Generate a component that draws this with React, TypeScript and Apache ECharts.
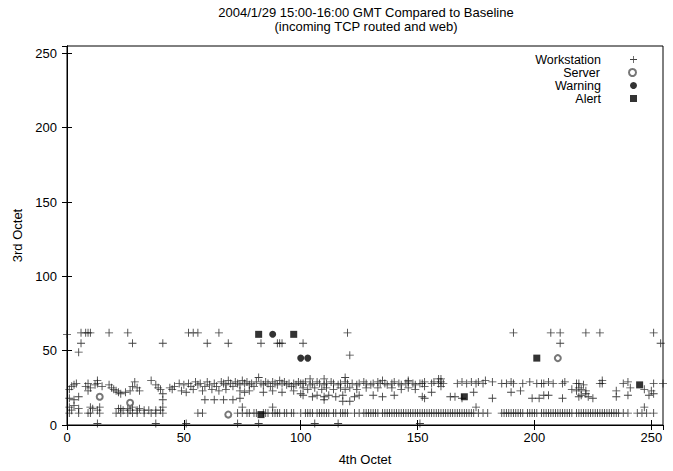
import React, { useEffect, useRef } from "react";
import * as echarts from "echarts";

const titleLines = ["2004/1/29 15:00-16:00 GMT Compared to Baseline", "(incoming TCP routed and web)"];
const xTickValues = [0, 50, 100, 150, 200, 250];
const yTickValues = [0, 50, 100, 150, 200, 250];

// Workstations on the bottom line (3rd octet ~1)
const wsBottomX = [13, 38, 51, 73, 82, 106, 116, 151];
// Workstations on the 3rd octet = 8 line
const wsRow8X = [
  1, 5, 9, 10, 14, 21, 23, 26, 28, 30, 33, 36, 38, 41, 56, 58,
  73, 75, 77, 78, 80, 81, 84, 85, 86, 88, 89, 90, 91, 93, 94, 96, 97,
  100, 102, 103, 104, 105, 107, 108, 109, 110, 111, 112, 114, 115, 117, 118, 119, 120,
  123, 125, 127, 128, 129, 130, 131, 132, 133, 135, 136, 137, 138, 139, 140, 141, 142,
  143, 144, 145, 146, 147, 148, 149, 150, 151, 152, 153, 154, 155, 156, 157, 158, 159,
  160, 161, 162, 163, 164, 165, 166, 167, 168, 169, 170, 171, 172, 173, 174, 176, 178,
  180, 186, 187, 188, 189, 190, 191, 192, 193, 194, 195, 197, 198, 199, 200, 201,
  203, 204, 205, 206, 207, 208, 209, 210, 211, 212, 213, 214, 215, 216, 218, 219, 220,
  221, 222, 223, 224, 225, 226, 227, 228, 229, 230, 231, 232, 233, 234, 235, 236, 238,
  240, 244, 246, 248, 251,
];
// Workstations on the 62 / 55 lines and other scattered upper points
const wsUpper: [number, number][] = [
  [0, 61], [6, 62], [8, 62], [9, 62], [10, 62], [18, 62], [26, 62], [52, 62], [54, 62], [56, 62],
  [65, 62], [120, 62], [191, 62], [207, 62], [211, 62], [222, 62], [228, 62], [251, 62],
  [6, 55], [28, 55], [41, 55], [60, 55], [69, 55], [83, 55], [90, 55], [91, 55], [92, 55],
  [101, 55], [211, 55], [254, 55], [5, 49], [121, 47],
];
// Workstations in the dense band
const wsBand: [number, number][] = [
  [1, 24], [2, 26], [3, 27], [4, 28], [1, 18], [3, 17], [5, 19], [1, 12], [2, 10], [3, 13], [5, 11],
  [8, 26], [9, 28], [10, 25], [9, 23], [13, 30], [12, 27], [15, 26], [13, 28], [10, 12], [11, 11],
  [13, 10], [14, 12], [18, 27], [19, 25], [21, 23], [20, 24], [22, 22], [23, 21], [25, 22], [27, 23],
  [28, 26], [29, 29], [30, 25], [31, 23], [22, 11], [23, 11], [24, 10], [26, 11], [27, 10], [28, 12],
  [30, 10], [31, 11], [33, 10], [35, 10], [36, 30], [38, 27], [39, 25], [40, 24], [41, 21], [38, 10],
  [40, 10], [41, 12], [41, 17], [44, 25], [45, 24], [46, 26], [48, 28], [49, 23],
  [50, 27], [52, 28], [53, 26], [55, 29], [56, 27], [57, 28], [59, 26], [60, 29], [61, 27], [63, 28],
  [64, 26], [66, 29], [67, 28], [68, 27], [69, 30], [70, 28], [71, 26], [72, 29], [73, 28], [74, 27],
  [75, 30], [76, 28], [77, 29], [78, 27], [79, 28], [80, 26], [81, 29], [82, 32], [83, 28], [84, 27],
  [85, 29], [86, 28], [87, 26], [88, 29], [89, 28], [90, 27], [91, 30], [92, 28], [93, 29], [94, 27],
  [95, 28], [96, 26], [97, 28], [98, 27], [99, 29], [100, 28],
  [51, 22], [54, 24], [58, 23], [62, 24], [65, 23], [68, 24], [74, 23], [76, 22], [78, 23], [84, 22],
  [88, 23], [92, 22], [97, 23], [100, 21], [59, 17], [63, 17], [67, 17], [71, 17], [74, 18], [75, 12], [88, 12],
  [101, 28], [102, 29], [104, 27], [105, 28], [107, 29], [108, 28], [110, 27], [111, 28], [113, 29],
  [114, 28], [116, 27], [117, 28], [119, 29], [120, 28], [122, 28], [124, 27], [125, 28], [127, 29],
  [128, 28], [130, 27], [131, 28], [133, 29], [134, 28], [136, 28], [137, 27], [139, 28], [140, 29],
  [142, 28], [143, 27], [145, 28], [146, 29], [148, 28], [149, 27], [151, 28],
  [104, 31], [110, 31], [119, 32], [135, 30], [146, 30],
  [101, 25], [103, 24], [106, 25], [109, 24], [111, 25], [114, 24], [117, 25], [119, 24], [121, 25],
  [124, 24], [128, 25], [133, 25], [139, 25], [143, 24], [146, 25], [149, 24],
  [101, 20], [105, 19], [107, 20], [110, 19], [112, 20], [115, 19], [118, 20], [123, 19], [125, 20],
  [131, 20], [135, 19], [140, 20], [152, 19], [110, 17], [118, 16], [121, 16],
  [152, 28], [153, 29], [156, 28], [157, 29], [159, 28], [160, 29], [161, 28], [167, 28], [169, 29],
  [171, 28], [173, 29], [175, 28], [176, 29], [178, 28], [182, 29], [186, 28], [188, 28], [190, 29],
  [191, 28], [195, 28], [198, 29], [201, 28], [203, 28], [159, 31], [160, 31], [179, 30],
  [153, 26], [160, 26], [156, 22], [174, 22], [190, 22], [194, 23],
  [153, 18], [164, 19], [166, 19], [169, 18], [182, 18], [199, 18], [202, 18], [175, 12],
  [204, 28], [206, 29], [208, 28], [212, 28], [213, 29], [218, 28], [219, 28], [221, 27], [228, 28],
  [229, 30], [229, 28], [238, 28], [240, 29], [251, 28], [255, 28],
  [216, 24], [218, 23], [219, 25], [220, 24], [222, 23], [235, 23], [241, 25], [247, 24], [250, 23],
  [204, 20], [206, 20], [212, 18], [219, 19], [220, 20], [222, 21], [223, 19], [225, 18], [235, 19],
  [240, 20], [249, 20], [251, 21], [247, 12],
];
const serverPts: [number, number][] = [[14, 19], [27, 15], [69, 7], [210, 45]];
const warningPts: [number, number][] = [[88, 61], [100, 45], [103, 45]];
const alertPts: [number, number][] = [[82, 61], [97, 61], [83, 7], [170, 19], [201, 45], [245, 27]];

const FONT = "Liberation Sans, Arial, Helvetica, sans-serif";
const PLUS = "path://M4.45,0H5.55V4.45H10V5.55H5.55V10H4.45V5.55H0V4.45H4.45Z";

export default function App() {
  const ref = useRef<HTMLDivElement>(null);
  useEffect(() => {
    document.body.style.margin = "0";
    if (!ref.current) return;
    const chart = echarts.init(ref.current, undefined, { renderer: "svg" });
    const workstations: [number, number][] = [
      ...wsBottomX.map((x) => [x, 1] as [number, number]),
      ...wsRow8X.map((x) => [x, 8] as [number, number]),
      ...wsUpper,
      ...wsBand,
    ];
    const axisCommon = {
      type: "value" as const,
      min: 0,
      max: 255,
      interval: 50,
      splitLine: { show: false },
      axisLine: { show: true, lineStyle: { color: "#000", width: 1 } },
      axisTick: { show: true, inside: true, length: 5, lineStyle: { color: "#000" } },
    };
    const fmt = (v: number) => (xTickValues.includes(v) ? String(v) : "");
    const fmtY = (v: number) => (yTickValues.includes(v) ? String(v) : "");
    const names = ["Workstation", "Server", "Warning", "Alert"];
    const legends = names.map((n, i) => ({
      data: [n],
      orient: "vertical" as const,
      right: 36,
      top: 53 + i * 13,
      align: "right" as const,
      padding: 0,
      itemWidth: 7,
      itemHeight: 7,
      textStyle: { fontFamily: FONT, fontSize: 12.5, lineHeight: 11, color: "#000", padding: [0, 24, 0, 0] },
    }));
    chart.setOption({
      animation: false,
      backgroundColor: "#fff",
      title: {
        text: titleLines.join("\n"),
        left: 366,
        textAlign: "center",
        top: 5,
        padding: 0,
        textStyle: { fontFamily: FONT, fontSize: 13, fontWeight: "normal", color: "#000", lineHeight: 14 },
      },
      legend: legends,
      grid: { left: 67, right: 10, top: 46, bottom: 42, show: true, borderColor: "#000", borderWidth: 1, backgroundColor: "transparent" },
      xAxis: [
        {
          ...axisCommon,
          position: "bottom",
          name: "4th Octet",
          nameLocation: "middle",
          nameGap: 28,
          nameTextStyle: { fontFamily: FONT, fontSize: 13, color: "#000" },
          axisLabel: { fontFamily: FONT, fontSize: 13, color: "#000", margin: 6, formatter: fmt, showMaxLabel: false },
        },
        { ...axisCommon, position: "top", axisLabel: { show: false } },
      ],
      yAxis: [
        {
          ...axisCommon,
          position: "left",
          name: "3rd Octet",
          nameLocation: "middle",
          nameGap: 42,
          nameRotate: 90,
          nameTextStyle: { fontFamily: FONT, fontSize: 13, color: "#000" },
          axisLabel: { fontFamily: FONT, fontSize: 13, color: "#000", margin: 10, formatter: fmtY, showMaxLabel: false },
        },
        { ...axisCommon, position: "right", axisLabel: { show: false } },
      ],
      series: [
        { name: "Workstation", type: "scatter", symbol: PLUS, symbolSize: 8, itemStyle: { color: "#111" }, data: workstations, z: 2 },
        { name: "Server", type: "scatter", symbol: "emptyCircle", symbolSize: 6, itemStyle: { color: "#555", borderWidth: 1 }, data: serverPts, z: 3 },
        { name: "Warning", type: "scatter", symbol: "circle", symbolSize: 7, itemStyle: { color: "#000" }, data: warningPts, z: 4 },
        { name: "Alert", type: "scatter", symbol: "rect", symbolSize: 7, itemStyle: { color: "#000" }, data: alertPts, z: 5 },
      ],
    });
    return () => chart.dispose();
  }, []);
  return <div ref={ref} style={{ width: 673, height: 471 }} />;
}
